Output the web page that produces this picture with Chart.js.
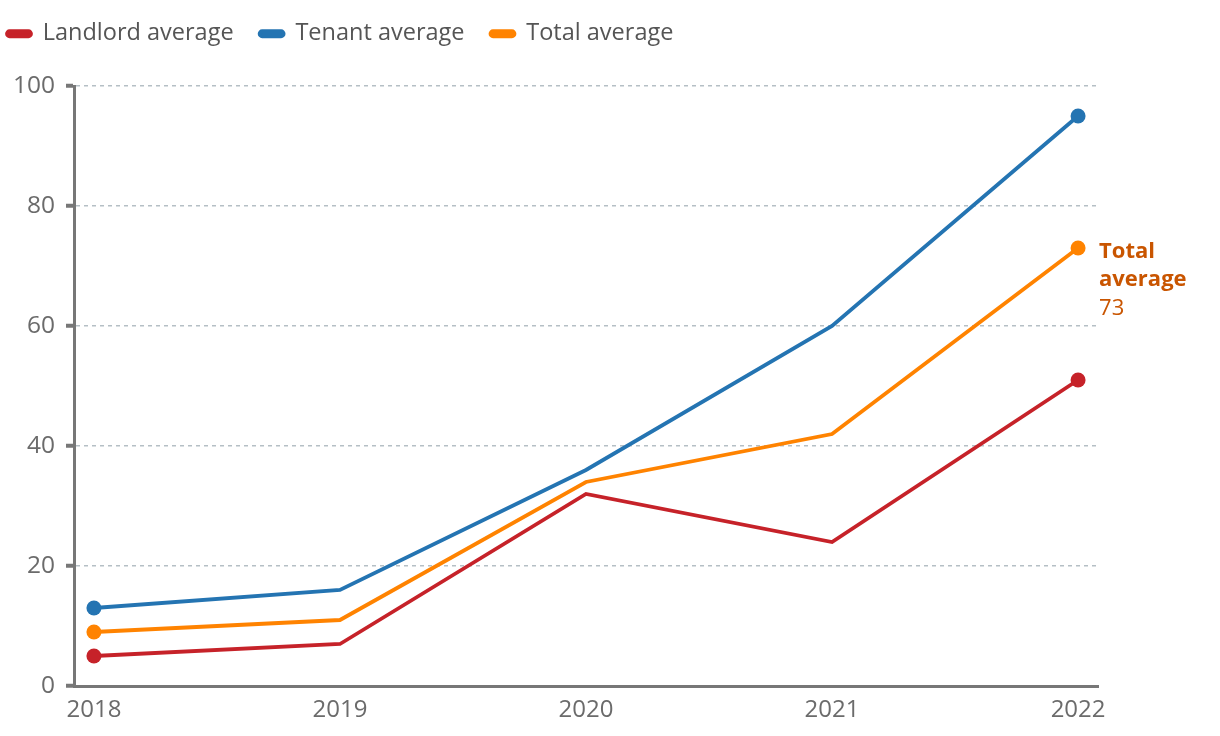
<!DOCTYPE html>
<html>
<head>
<meta charset="utf-8">
<script src="https://cdn.jsdelivr.net/npm/chart.js@4.4.1/dist/chart.umd.min.js"></script>
<style>
  html, body { margin: 0; padding: 0; background: #fff; }
  #wrap { width: 1220px; height: 736px; }
</style>
</head>
<body>
<div id="wrap"><canvas id="c" width="1220" height="736"></canvas></div>
<script>
const years = [2018, 2019, 2020, 2021, 2022];
const landlord = [5, 7, 32, 24, 51];
const tenant = [13, 16, 36, 60, 95];
const total = [9, 11, 34, 42, 73];
const yTicks = [0, 20, 40, 60, 80, 100];
const seriesNames = ['Landlord average', 'Tenant average', 'Total average'];
const seriesColors = ['#c62229', '#2474b2', '#ff8300'];
const annotationLines = ['Total', 'average', '73'];

const FONT = "'Open Sans', 'Noto Sans', sans-serif";

function endpointsOnly(ctx) {
  const i = ctx.dataIndex;
  return (i === 0 || i === years.length - 1) ? 7.5 : 0;
}

function toPoints(vals) { return years.map((y, i) => ({ x: y, y: vals[i] })); }

const datasets = [landlord, tenant, total].map((vals, k) => ({
  label: seriesNames[k],
  data: toPoints(vals),
  borderColor: seriesColors[k],
  backgroundColor: seriesColors[k],
  borderWidth: 3.8,
  pointRadius: endpointsOnly,
  pointHoverRadius: endpointsOnly,
  pointBorderWidth: 0,
  tension: 0,
  clip: false
}));
datasets[0].order = 3; datasets[1].order = 2; datasets[2].order = 1;

const legendTweak = {
  id: 'legendTweak',
  afterInit(chart) {
    const lg = chart.legend;
    const fit = lg.fit;
    lg.fit = function () { fit.call(lg); lg.height = 84; };
    const draw = lg.draw;
    lg.draw = function () {
      const ctx = chart.ctx;
      ctx.save();
      ctx.translate(-19, -6);
      draw.call(lg);
      ctx.restore();
    };
  }
};

const endLabel = {
  id: 'endLabel',
  afterDatasetsDraw(chart) {
    const ctx = chart.ctx;
    const meta = chart.getDatasetMeta(2);
    const pt = meta.data[meta.data.length - 1];
    const x = pt.x + 21;
    ctx.save();
    ctx.fillStyle = '#c95500';
    ctx.textAlign = 'left';
    ctx.textBaseline = 'middle';
    ctx.font = "bold 22px " + FONT;
    ctx.fillText(annotationLines[0], x, pt.y + 4);
    ctx.fillText(annotationLines[1], x, pt.y + 32);
    ctx.font = "22px " + FONT;
    ctx.fillText(annotationLines[2], x, pt.y + 61);
    ctx.restore();
  }
};

new Chart(document.getElementById('c'), {
  type: 'line',
  data: { datasets },
  plugins: [legendTweak, endLabel],
  options: {
    responsive: false,
    animation: false,
    devicePixelRatio: 1,
    layout: { padding: { top: 2, right: 122, left: 0, bottom: 0 } },
    plugins: {
      legend: {
        display: true,
        position: 'top',
        align: 'start',
        labels: {
          boxWidth: 24,
          boxHeight: 5,
          useBorderRadius: true,
          borderRadius: 2.5,
          padding: 26,
          color: '#555',
          font: { family: FONT, size: 23.5 },
          sort: (a, b) => a.datasetIndex - b.datasetIndex
        }
      },
      tooltip: { enabled: false }
    },
    scales: {
      x: {
        type: 'linear',
        min: 2017.919,
        max: 2022.081,
        afterBuildTicks(scale) { scale.ticks = years.map(v => ({ value: v })); },
        afterFit(scale) { scale.height = 50; },
        grid: { display: false, drawTicks: false },
        border: { display: true, color: '#777', width: 3 },
        ticks: {
          color: '#6b6b6b',
          padding: 10,
          font: { family: FONT, size: 24 },
          maxRotation: 0,
          autoSkip: false,
          callback: v => String(v)
        }
      },
      y: {
        min: 0,
        max: 100,
        afterBuildTicks(scale) { scale.ticks = yTicks.map(v => ({ value: v })); },
        afterFit(scale) { scale.width = 74; },
        grid: {
          color: '#b5bfc5',
          lineWidth: 1.5,
          tickColor: '#777',
          tickWidth: 4,
          tickLength: 8,
          tickBorderDash: []
        },
        border: { display: true, color: '#777', width: 3, dash: [4, 4] },
        ticks: {
          color: '#6b6b6b',
          padding: 11,
          font: { family: FONT, size: 24.5 },
          callback: v => String(v)
        }
      }
    }
  }
});
</script>
</body>
</html>
